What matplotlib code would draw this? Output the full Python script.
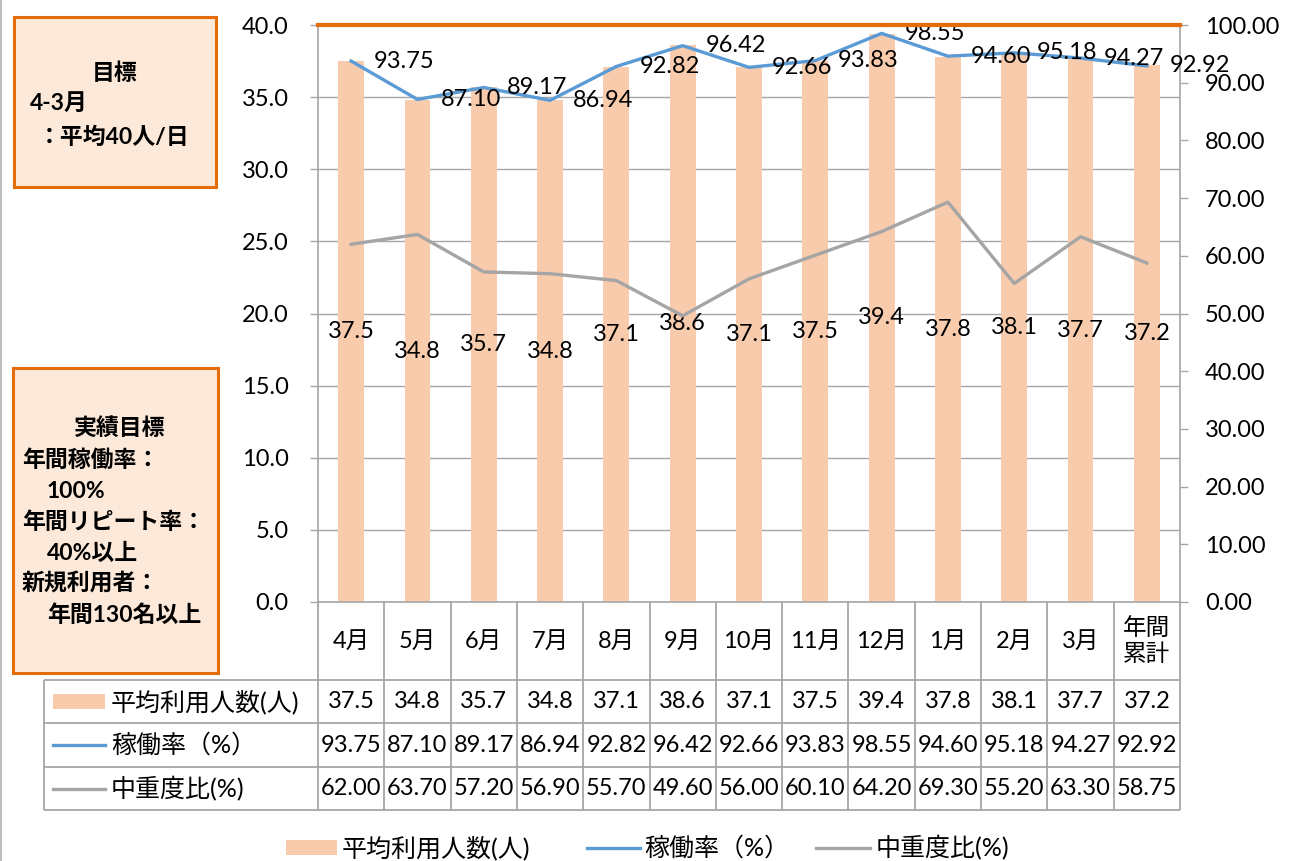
import matplotlib
matplotlib.use('Agg')
import matplotlib.pyplot as plt
from matplotlib.patches import Rectangle
import numpy as np

plt.rcParams['font.family'] = ['Lato', 'Noto Sans CJK JP', 'DejaVu Sans']

# data
months = ['4月', '5月', '6月', '7月', '8月', '9月', '10月', '11月', '12月',
          '1月', '2月', '3月', '年間\n累計']
avg_users = [37.5, 34.8, 35.7, 34.8, 37.1, 38.6, 37.1, 37.5, 39.4, 37.8, 38.1, 37.7, 37.2]
utilization = [93.75, 87.10, 89.17, 86.94, 92.82, 96.42, 92.66, 93.83, 98.55,
               94.60, 95.18, 94.27, 92.92]
severe_ratio = [62.00, 63.70, 57.20, 56.90, 55.70, 49.60, 56.00, 60.10, 64.20,
                69.30, 55.20, 63.30, 58.75]
target_users = 40
series_names = ['平均利用人数(人)', '稼働率（%）', '中重度比(%)']

goal_lines = ['4-3月', '：平均40人/日']
result_lines = ['年間稼働率：', '100%', '年間リピート率：', '40%以上',
                '新規利用者：', '年間130名以上']

PEACH = '#F8CBAD'
BLUE = '#5B9BD5'
GRAY = '#A5A5A5'
ORANGE = '#E46C0A'
GRID = '#A6A6A6'
BOXFILL = '#FDE9D9'
NUM_FS = 17
CJK_FS = 18
BOX_FS = 16.5

W, H = 1290, 861
fig = plt.figure(figsize=(W / 100, H / 100), dpi=100)


def frac(x0, y0, x1, y1):
    return [x0 / W, 1 - y1 / H, (x1 - x0) / W, (y1 - y0) / H]


PL, PT, PR, PB = 318, 25, 1180, 602
ax = fig.add_axes(frac(PL, PT, PR, PB))
x = np.arange(len(months))

bars = ax.bar(x, avg_users, width=0.39, color=PEACH, zorder=2)
ax.bar_label(bars, labels=[f'{v:.1f}' for v in avg_users],
             label_type='center', fontsize=NUM_FS)
ax.set_xlim(-0.5, len(months) - 0.5)
ax.set_ylim(0, 40)
ax.set_yticks(np.arange(0, 41, 5))
ax.yaxis.set_major_formatter('{x:.1f}')
ax.set_xticks([])
ax.grid(axis='y', color=GRID, lw=1)
ax.set_axisbelow(True)
ax.tick_params(axis='y', length=6, width=1, color=GRID, pad=15, labelsize=NUM_FS)
for s in ['top', 'right']:
    ax.spines[s].set_visible(False)
for s in ['left', 'bottom']:
    ax.spines[s].set_color(GRID)
    ax.spines[s].set_linewidth(1.2)

ax2 = ax.twinx()
ax2.set_ylim(0, 100)
ax2.set_yticks(np.arange(0, 101, 10))
ax2.yaxis.set_major_formatter('{x:.2f}')
ax2.tick_params(axis='y', length=6, width=1, color=GRID, pad=12, labelsize=NUM_FS)
for s in ['top', 'left', 'bottom']:
    ax2.spines[s].set_visible(False)
ax2.spines['right'].set_color(GRID)
ax2.spines['right'].set_linewidth(1.2)

ax2.plot(x, utilization, color=BLUE, lw=2.4, zorder=3)
ax2.plot(x, severe_ratio, color=GRAY, lw=2.4, zorder=3)
for xi, v in zip(x, utilization):
    ax2.annotate(f'{v:.2f}', (xi, v), xytext=(16.5, 0), textcoords='offset points',
                 ha='left', va='center', fontsize=NUM_FS, zorder=4)
# target line (40 people/day on the left scale)
ax2.axhline(target_users * 100 / 40, color=ORANGE, lw=3, zorder=6, clip_on=False)

# overlay in pixel coordinates for boxes, table and legend
ov = fig.add_axes([0, 0, 1, 1])
ov.set_xlim(0, W)
ov.set_ylim(H, 0)
ov.axis('off')

ov.plot([1, 1], [0, H], color='#BFBFBF', lw=1.5)

# goal boxes
ov.add_patch(Rectangle((14, 17), 202, 170, fc=BOXFILL, ec=ORANGE, lw=2.2))
ov.text(115, 73, '目標', ha='center', va='center', fontsize=BOX_FS, fontweight='bold')
ov.text(30, 103, goal_lines[0], ha='left', va='center', fontsize=BOX_FS, fontweight='bold')
ov.text(38, 137, goal_lines[1], ha='left', va='center', fontsize=BOX_FS, fontweight='bold')

ov.add_patch(Rectangle((13, 368), 205, 305, fc=BOXFILL, ec=ORANGE, lw=2.2))
ov.text(120, 428, '実績目標', ha='center', va='center', fontsize=BOX_FS, fontweight='bold')
for i, t in enumerate(result_lines):
    ov.text(22 if i % 2 == 0 else 47, 460 + i * 31, t, ha='left', va='center',
            fontsize=BOX_FS, fontweight='bold')

# data table
col_w = (PR - PL) / len(months)
edges = [PL + col_w * i for i in range(len(months) + 1)]
TL = 44
row_y = [680, 723, 767, 810]
lc = dict(color=GRID, lw=1.3, solid_capstyle='butt')
for e in edges:
    ov.plot([e, e], [PB, row_y[-1]], **lc)
ov.plot([TL, TL], [row_y[0], row_y[-1]], **lc)
for yy in row_y:
    ov.plot([TL, PR], [yy, yy], **lc)

centers = [PL + col_w * (i + 0.5) for i in range(len(months))]
for cx, m in zip(centers, months):
    ov.text(cx, 641, m, ha='center', va='center', fontsize=NUM_FS, linespacing=1.2)

row_c = [(row_y[i] + row_y[i + 1]) / 2 for i in range(3)]
row_vals = [[f'{v:.1f}' for v in avg_users],
            [f'{v:.2f}' for v in utilization],
            [f'{v:.2f}' for v in severe_ratio]]
for rc, vals in zip(row_c, row_vals):
    for cx, t in zip(centers, vals):
        ov.text(cx, rc, t, ha='center', va='center', fontsize=NUM_FS)

ov.add_patch(Rectangle((53, row_c[0] - 8), 52, 15, fc=PEACH, ec='none'))
ov.plot([53, 105], [row_c[1], row_c[1]], color=BLUE, lw=2.4)
ov.plot([53, 105], [row_c[2], row_c[2]], color=GRAY, lw=2.4)
for rc, name in zip(row_c, series_names):
    ov.text(111, rc, name, ha='left', va='center', fontsize=CJK_FS)

# bottom legend
LY = 848
ov.add_patch(Rectangle((286, LY - 8), 51, 15, fc=PEACH, ec='none'))
ov.text(342, LY, series_names[0], ha='left', va='center', fontsize=CJK_FS)
ov.plot([587, 640], [LY, LY], color=BLUE, lw=2.4)
ov.text(644, LY, series_names[1], ha='left', va='center', fontsize=CJK_FS)
ov.plot([816, 870], [LY, LY], color=GRAY, lw=2.4)
ov.text(876, LY, series_names[2], ha='left', va='center', fontsize=CJK_FS)

fig.savefig('out.png', dpi=100)
